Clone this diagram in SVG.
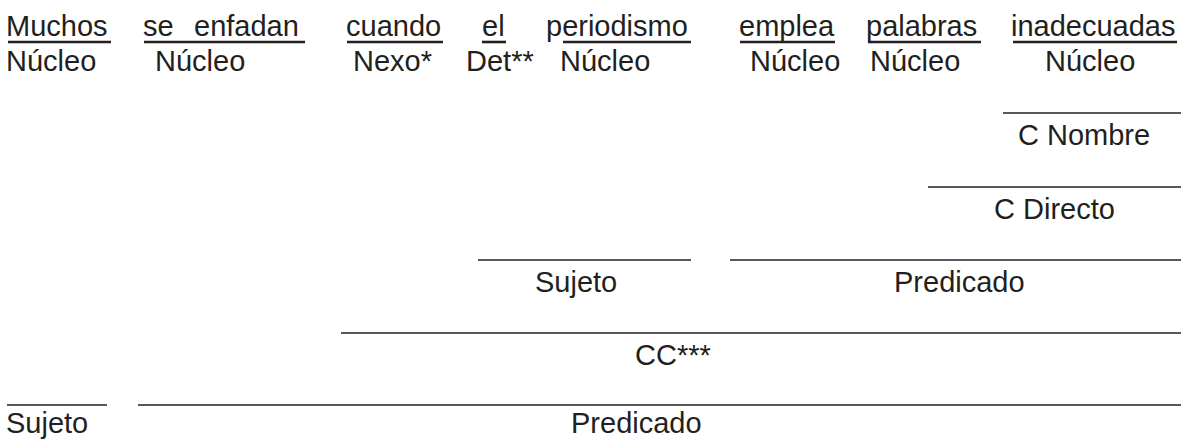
<svg xmlns="http://www.w3.org/2000/svg" width="1182" height="439" viewBox="0 0 1182 439">
<style>
text{font-family:"Liberation Sans",Arial,sans-serif;font-size:29px;fill:#231f20}
.u{stroke:#231f20;stroke-width:2.6;fill:none}
.l{stroke:#231f20;stroke-width:1.7;fill:none}
</style>
<rect width="1182" height="439" fill="#fff"/>
<g id="words">
<text x="6" y="36">Muchos</text>
<text y="36"><tspan x="143">se</tspan><tspan x="194">enfadan</tspan></text>
<text x="346" y="36">cuando</text>
<text x="482" y="36">el</text>
<text x="546" y="36">periodismo</text>
<text x="739" y="36">emplea</text>
<text x="866" y="36">palabras</text>
<text x="1011" y="36">inadecuadas</text>
</g>
<g id="underlines">
<line class="u" x1="8" y1="42" x2="111" y2="42"/>
<line class="u" x1="144" y1="42" x2="305" y2="42"/>
<line class="u" x1="347" y1="42" x2="443" y2="42"/>
<line class="u" x1="482" y1="42" x2="506" y2="42"/>
<line class="u" x1="563" y1="42" x2="691" y2="42"/>
<line class="u" x1="740" y1="42" x2="835" y2="42"/>
<line class="u" x1="868" y1="42" x2="981" y2="42"/>
<line class="u" x1="1013" y1="42" x2="1177" y2="42"/>
</g>
<g id="functions">
<text x="6" y="71">Núcleo</text>
<text x="155" y="71">Núcleo</text>
<text x="353" y="71">Nexo*</text>
<text x="466" y="71">Det**</text>
<text x="560" y="71">Núcleo</text>
<text x="750" y="71">Núcleo</text>
<text x="870" y="71">Núcleo</text>
<text x="1045" y="71">Núcleo</text>
</g>
<g id="c-nombre">
<line class="l" x1="1003" y1="113" x2="1181" y2="113"/>
<text x="1018" y="145">C Nombre</text>
</g>
<g id="c-directo">
<line class="l" x1="928" y1="187" x2="1181" y2="187"/>
<text x="994" y="219">C Directo</text>
</g>
<g id="sujeto-sub">
<line class="l" x1="478" y1="260" x2="691" y2="260"/>
<text x="535" y="292">Sujeto</text>
</g>
<g id="predicado-sub">
<line class="l" x1="730" y1="260" x2="1181" y2="260"/>
<text x="894" y="292">Predicado</text>
</g>
<g id="cc">
<line class="l" x1="341" y1="333" x2="1181" y2="333"/>
<text x="635" y="365">CC***</text>
</g>
<g id="sujeto">
<line class="l" x1="7" y1="405" x2="107" y2="405"/>
<text x="6" y="432.5">Sujeto</text>
</g>
<g id="predicado">
<line class="l" x1="138" y1="405" x2="1181" y2="405"/>
<text x="571" y="432.5">Predicado</text>
</g>
</svg>
